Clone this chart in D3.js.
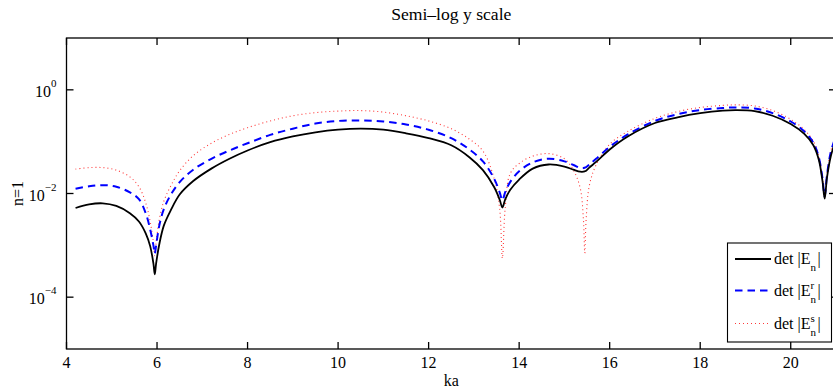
<!DOCTYPE html>
<html>
<head>
<meta charset="utf-8">
<script src="https://cdn.jsdelivr.net/npm/d3@7"></script>
<style>
  body { margin:0; background:#fff; }
  svg text { font-family:"Liberation Serif","DejaVu Serif",serif; fill:#000; }
</style>
</head>
<body>
<svg id="viz-svg" width="833" height="390"></svg>
<script>
// sample points along ka (shared by the three curves)
var ka = [4.2,4.5,4.8,5.1,5.4,5.6,5.75,5.85,5.92,5.95,5.98,6.05,6.15,6.3,6.5,6.8,7.2,7.6,8.0,8.5,
  9.0,9.5,10.0,10.5,11.0,11.5,12.0,12.5,12.9,13.2,13.45,13.57,13.63,13.69,13.8,14.0,14.3,14.65,
  15.0,15.2,15.35,15.42,15.45,15.48,15.55,15.7,16.0,16.4,17.0,17.5,18.0,18.5,18.8,19.2,19.6,
  20.0,20.3,20.5,20.62,20.7,20.75,20.8,20.88,21.0]

// det |E_n|
var detE = [5.25e-3,6.17e-3,6.46e-3,5.75e-3,4.17e-3,2.88e-3,1.70e-3,9.55e-4,4.47e-4,2.75e-4,4.47e-4,1.05e-3,
  2.40e-3,4.68e-3,9.55e-3,1.74e-2,3.02e-2,4.68e-2,6.76e-2,9.77e-2,0.126,0.151,0.170,0.178,0.170,0.145,
  0.117,8.51e-2,5.01e-2,2.82e-2,1.32e-2,7.59e-3,5.37e-3,7.59e-3,1.17e-2,1.86e-2,3.02e-2,3.63e-2,
  3.31e-2,2.88e-2,2.63e-2,2.63e-2,2.69e-2,2.75e-2,3.16e-2,4.07e-2,7.08e-2,0.126,0.229,0.295,0.355,
  0.398,0.407,0.389,0.316,0.219,0.141,8.51e-2,4.47e-2,1.78e-2,7.94e-3,2.00e-2,5.01e-2,0.112]

// det |E_n^r|
var detEr = [1.23e-2,1.38e-2,1.45e-2,1.35e-2,1.05e-2,7.76e-3,4.17e-3,2.00e-3,1.00e-3,6.92e-4,1.00e-3,2.40e-3,
  5.01e-3,9.33e-3,1.66e-2,2.88e-2,4.68e-2,6.76e-2,9.33e-2,0.135,0.178,0.224,0.251,0.257,0.245,0.214,
  0.170,0.117,7.08e-2,4.17e-2,1.91e-2,1.05e-2,7.41e-3,1.05e-2,1.66e-2,2.69e-2,3.98e-2,4.68e-2,
  4.17e-2,3.55e-2,3.09e-2,3.09e-2,3.16e-2,3.24e-2,3.63e-2,4.68e-2,7.94e-2,0.138,0.251,0.339,0.407,
  0.447,0.457,0.437,0.355,0.245,0.158,9.55e-2,5.01e-2,2.00e-2,8.91e-3,2.24e-2,6.03e-2,0.132]

// det |E_n^s|
var detEs = [2.95e-2,3.16e-2,3.16e-2,2.82e-2,2.09e-2,1.35e-2,6.61e-3,2.82e-3,1.12e-3,6.31e-4,1.12e-3,3.16e-3,
  7.08e-3,1.38e-2,2.75e-2,5.37e-2,9.33e-2,0.138,0.186,0.251,0.316,0.363,0.389,0.398,0.372,0.316,
  0.251,0.178,0.112,6.61e-2,1.91e-2,5.01e-3,5.62e-4,5.01e-3,2.40e-2,3.80e-2,5.25e-2,5.89e-2,
  4.68e-2,2.82e-2,1.26e-2,3.16e-3,7.08e-4,3.16e-3,1.41e-2,3.55e-2,8.91e-2,0.158,0.282,0.380,0.457,
  0.501,0.513,0.490,0.398,0.269,0.170,0.102,5.25e-2,2.09e-2,9.33e-3,2.34e-2,6.31e-2,0.138]

var xTicks = [4,6,8,10,12,14,16,18,20]
  , yTicks = [1e-4,1e-2,1e0]
  , yTickExp = ["\u22124","\u22122","0"]
  , seriesNames = ["E", "E", "E"]
  , seriesSup = ["", "r", "s"]

var svg = d3.select("#viz-svg")
  , mLeft = 66.5, mRight = 836, mTop = 38, mBottom = 349
  , tickLen = 7
  , fs = 16

var x = d3.scaleLinear().domain([4,21]).range([mLeft,mRight])
  , y = d3.scaleLog().domain([1e-5,10]).range([mBottom,mTop])

svg.append("defs").append("clipPath").attr("id","plot-clip")
  .append("rect").attr("x",mLeft).attr("y",mTop).attr("width",mRight-mLeft).attr("height",mBottom-mTop)

// curves
var line = d3.line()
  .x(function(d){ return x(d[0]) })
  .y(function(d){ return y(d[1]) })
  .curve(d3.curveCatmullRom.alpha(0.5))

var series = [
  {vals:detE, stroke:"#000", width:1.8, dash:null},
  {vals:detEr, stroke:"#0000ff", width:2, dash:"7.5,5"},
  {vals:detEs, stroke:"#ff3838", width:1.1, dash:"1,3"}
]

var gLines = svg.append("g").attr("clip-path","url(#plot-clip)")
// red first, black on top
series.slice().reverse().forEach(function(s){
  gLines.append("path")
    .datum(ka.map(function(k,i){ return [k, s.vals[i]] }))
    .attr("d", line)
    .attr("fill","none")
    .attr("stroke", s.stroke)
    .attr("stroke-width", s.width)
    .attr("stroke-dasharray", s.dash)
})

// axes frame + ticks
var gAxis = svg.append("g").attr("stroke","#000").attr("stroke-width",1.3)
gAxis.append("rect").attr("x",mLeft).attr("y",mTop).attr("width",mRight-mLeft).attr("height",mBottom-mTop)
  .attr("fill","none")

xTicks.forEach(function(t){
  gAxis.append("line").attr("x1",x(t)).attr("x2",x(t)).attr("y1",mBottom).attr("y2",mBottom-tickLen)
  gAxis.append("line").attr("x1",x(t)).attr("x2",x(t)).attr("y1",mTop).attr("y2",mTop+tickLen)
})
yTicks.forEach(function(t){
  gAxis.append("line").attr("x1",mLeft).attr("x2",mLeft+tickLen).attr("y1",y(t)).attr("y2",y(t))
  gAxis.append("line").attr("x1",mRight).attr("x2",mRight-tickLen).attr("y1",y(t)).attr("y2",y(t))
})

// tick labels
svg.append("g").selectAll("text").data(xTicks).enter().append("text")
  .attr("x", function(d){ return x(d) })
  .attr("y", mBottom+19)
  .attr("text-anchor","middle")
  .style("font-size", fs+"px")
  .text(function(d){ return d })

var yl = svg.append("g").selectAll("text").data(yTicks).enter().append("text")
  .attr("x", mLeft-10)
  .attr("y", function(d){ return y(d)+7 })
  .attr("text-anchor","end")
  .style("font-size", fs+"px")
yl.append("tspan").text("10")
yl.append("tspan").attr("dy",-10).style("font-size","11px").text(function(d,i){ return yTickExp[i] })

// titles
svg.append("text").attr("x",(mLeft+mRight)/2).attr("y",20).attr("text-anchor","middle")
  .style("font-size","17.6px").text("Semi\u2013log y scale")
svg.append("text").attr("x",(mLeft+mRight)/2).attr("y",386).attr("text-anchor","middle")
  .style("font-size",fs+"px").text("ka")
svg.append("text").attr("transform","translate(23,"+((mTop+mBottom)/2)+") rotate(-90)")
  .attr("text-anchor","middle").style("font-size",fs+"px").text("n=1")

// legend
var lg = svg.append("g").attr("id","legend")
lg.append("rect").attr("x",727.5).attr("y",243).attr("width",104).attr("height",99)
  .attr("fill","#fff").attr("stroke","#000").attr("stroke-width",1.1)
var rowY = [259, 290.5, 323.5]
series.forEach(function(s,i){
  lg.append("line").attr("x1",735).attr("x2",771).attr("y1",rowY[i]).attr("y2",rowY[i])
    .attr("stroke",s.stroke).attr("stroke-width",s.width).attr("stroke-dasharray",s.dash)
  var t = lg.append("text").attr("x",774).attr("y",rowY[i]+5).style("font-size",fs+"px")
    .text("det |" + seriesNames[i])
  var w = t.node().getComputedTextLength()
  lg.append("text").attr("x",774+w).attr("y",rowY[i]+12).style("font-size","11px").text("n")
  if (seriesSup[i]) {
    lg.append("text").attr("x",774+w).attr("y",rowY[i]-2).style("font-size","11px").text(seriesSup[i])
  }
  lg.append("text").attr("x",774+w+7).attr("y",rowY[i]+5).style("font-size",fs+"px").text("|")
})
</script>
</body>
</html>
